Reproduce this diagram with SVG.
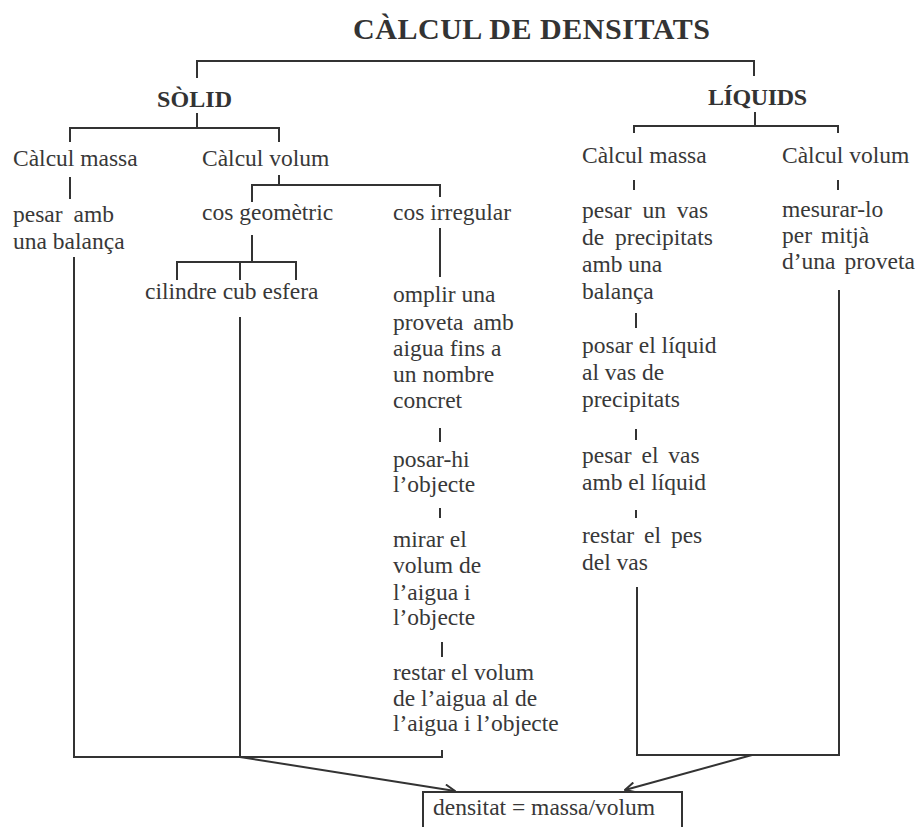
<svg xmlns="http://www.w3.org/2000/svg" width="920" height="827" viewBox="0 0 920 827">
<defs>
<style>
.t{font-family:"Liberation Serif","Times New Roman",serif;font-size:23.5px;fill:#383838}
.b{font-family:"Liberation Serif","Times New Roman",serif;font-weight:bold;fill:#333}
.c line,.c polyline,.c path{stroke:#333;stroke-width:2;fill:none}
.box{fill:#fff;stroke:#333;stroke-width:2}
</style>
<marker id="ah" viewBox="0 0 12 12" refX="11" refY="6" markerWidth="12" markerHeight="12" markerUnits="userSpaceOnUse" orient="auto">
<path d="M1,1 L11,6 L1,11" fill="none" stroke="#333" stroke-width="2"/>
</marker>
</defs>
<rect width="920" height="827" fill="#fff"/>

<g id="connectors" class="c">
<polyline points="197,78 197,61 754,61 754,76"/>
<line x1="197" y1="113" x2="197" y2="128"/>
<polyline points="70,142 70,128 279,128 279,142"/>
<line x1="755" y1="112" x2="755" y2="126"/>
<polyline points="634,133 634,126 838,126 838,133"/>
<line x1="70" y1="177" x2="70" y2="199"/>
<line x1="279" y1="175" x2="279" y2="185"/>
<polyline points="252,202 252,185 440,185 440,197"/>
<line x1="252" y1="235" x2="252" y2="262"/>
<polyline points="177,280 177,262 296,262 296,280"/>
<line x1="240" y1="262" x2="240" y2="280"/>
<line x1="440" y1="228" x2="440" y2="277"/>
<line x1="440" y1="428" x2="440" y2="442"/>
<line x1="440" y1="508" x2="440" y2="518"/>
<line x1="442" y1="642" x2="442" y2="657"/>
<polyline points="74,257 74,757 442,757 442,750"/>
<line x1="240" y1="317" x2="240" y2="757"/>
<line x1="634" y1="180" x2="634" y2="190"/>
<line x1="838" y1="180" x2="838" y2="190"/>
<line x1="636" y1="313" x2="636" y2="328"/>
<line x1="636" y1="429" x2="636" y2="440"/>
<line x1="636" y1="510" x2="636" y2="518"/>
<polyline points="637,587 637,755 839,755 839,290"/>
<line x1="240" y1="757" x2="455" y2="791" marker-end="url(#ah)"/>
<line x1="752" y1="755" x2="625" y2="790" marker-end="url(#ah)"/>
</g>

<g id="title"><text class="b" x="353" y="39" font-size="30" textLength="357" lengthAdjust="spacing">CÀLCUL DE DENSITATS</text></g>
<g id="solid"><text class="b" x="157" y="107" font-size="24" textLength="75" lengthAdjust="spacing">SÒLID</text></g>
<g id="liquids"><text class="b" x="708" y="105" font-size="24" textLength="99" lengthAdjust="spacing">LÍQUIDS</text></g>

<g id="s-massa"><text class="t" x="13" y="166">Càlcul massa</text></g>
<g id="s-volum"><text class="t" x="202" y="166">Càlcul volum</text></g>
<g id="s-pesar"><text class="t" x="13" y="222" word-spacing="5">pesar amb</text><text class="t" x="13" y="249">una balança</text></g>
<g id="geometric"><text class="t" x="202" y="220">cos geomètric</text></g>
<g id="irregular"><text class="t" x="393" y="220">cos irregular</text></g>
<g id="formes"><text class="t" x="145" y="299">cilindre cub esfera</text></g>
<g id="omplir"><text class="t" x="393" y="302">omplir una</text><text class="t" x="393" y="330" word-spacing="4">proveta amb</text><text class="t" x="393" y="356">aigua fins a</text><text class="t" x="393" y="382">un nombre</text><text class="t" x="393" y="408">concret</text></g>
<g id="posar-hi"><text class="t" x="393" y="467">posar-hi</text><text class="t" x="393" y="492">l’objecte</text></g>
<g id="mirar"><text class="t" x="393" y="547">mirar el</text><text class="t" x="393" y="573">volum de</text><text class="t" x="393" y="600">l’aigua i</text><text class="t" x="393" y="625">l’objecte</text></g>
<g id="restar-volum"><text class="t" x="393" y="680">restar el volum</text><text class="t" x="393" y="706">de l’aigua al de</text><text class="t" x="393" y="731">l’aigua i l’objecte</text></g>

<g id="l-massa"><text class="t" x="582" y="163">Càlcul massa</text></g>
<g id="l-volum"><text class="t" x="782" y="163">Càlcul volum</text></g>
<g id="pesar-vas"><text class="t" x="582" y="218" word-spacing="5">pesar un vas</text><text class="t" x="582" y="245" word-spacing="5">de precipitats</text><text class="t" x="582" y="272">amb una</text><text class="t" x="582" y="299">balança</text></g>
<g id="posar-liquid"><text class="t" x="582" y="353">posar el líquid</text><text class="t" x="582" y="380">al vas de</text><text class="t" x="582" y="407">precipitats</text></g>
<g id="pesar-el-vas"><text class="t" x="582" y="463" word-spacing="4">pesar el vas</text><text class="t" x="582" y="490">amb el líquid</text></g>
<g id="restar-pes"><text class="t" x="582" y="543" word-spacing="4">restar el pes</text><text class="t" x="582" y="570">del vas</text></g>
<g id="mesurar"><text class="t" x="782" y="217">mesurar-lo</text><text class="t" x="782" y="243" word-spacing="3">per mitjà</text><text class="t" x="782" y="269" word-spacing="3">d’una proveta</text></g>

<g id="densitat"><rect class="box" x="423" y="792" width="259" height="50"/><text class="t" x="433" y="815">densitat = massa/volum</text></g>
</svg>
